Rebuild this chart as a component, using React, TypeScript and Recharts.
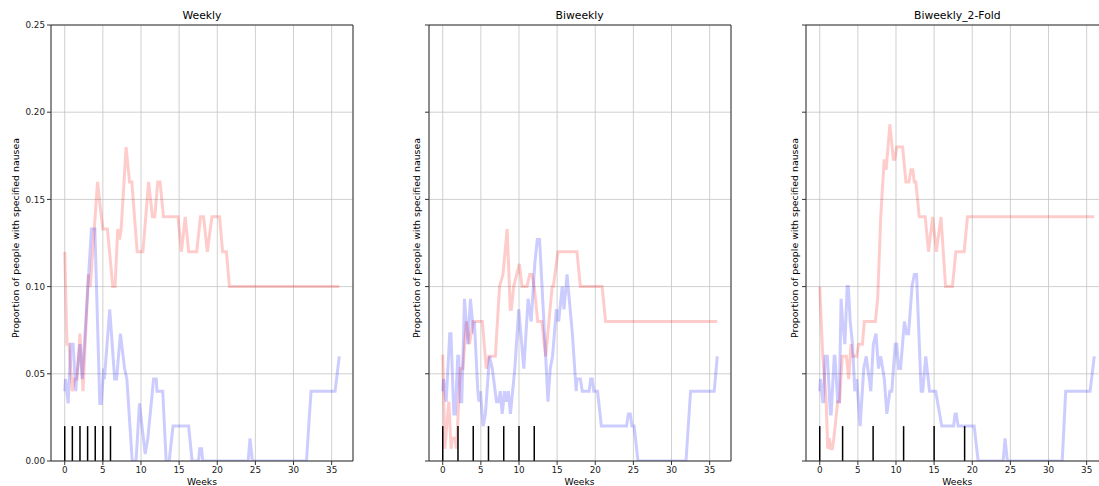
import React from "react";
import {
  LineChart,
  Line,
  XAxis,
  YAxis,
  CartesianGrid,
  ReferenceLine,
} from "recharts";

// [weeks, proportion] pairs
const weeklyRed: [number, number][] = [
  [0, 0.12], [0.3, 0.067], [0.55, 0.067], [1.0, 0.04], [1.3, 0.047], [1.6, 0.047],
  [2.0, 0.073], [2.4, 0.04], [3.1, 0.107], [3.35, 0.1], [4.3, 0.16], [4.8, 0.14],
  [5.0, 0.133], [5.6, 0.133], [6.3, 0.1], [6.6, 0.1], [6.95, 0.133], [7.2, 0.127],
  [7.4, 0.133], [8.05, 0.18], [8.5, 0.16], [8.8, 0.16], [9.5, 0.12], [10.25, 0.12],
  [11.0, 0.16], [11.5, 0.14], [11.8, 0.14], [12.2, 0.16], [12.5, 0.16], [12.95, 0.14],
  [14.85, 0.14], [15.3, 0.12], [15.8, 0.14], [16.25, 0.12], [17.3, 0.12], [17.8, 0.14],
  [18.2, 0.14], [18.7, 0.12], [19.3, 0.14], [20.3, 0.14], [20.7, 0.12], [21.2, 0.12],
  [21.6, 0.1], [36, 0.1],
];

const weeklyBlue: [number, number][] = [
  [0, 0.04], [0.1, 0.047], [0.45, 0.033], [0.8, 0.067], [1.1, 0.067], [1.45, 0.04],
  [1.55, 0.047], [2.0, 0.067], [2.3, 0.047], [3.5, 0.133], [3.95, 0.133], [4.6, 0.033],
  [4.8, 0.033], [5.1, 0.053], [5.2, 0.047], [5.9, 0.087], [6.55, 0.047], [6.8, 0.047],
  [7.3, 0.073], [7.85, 0.053], [8.15, 0.047], [8.85, 0], [9.35, 0], [9.8, 0.033],
  [10.55, 0.004], [10.9, 0.013], [11.65, 0.047], [12.0, 0.047], [12.1, 0.04], [12.85, 0.04],
  [13.3, 0], [13.7, 0], [14.2, 0.02], [16.25, 0.02], [16.7, 0], [17.55, 0], [17.7, 0.007],
  [17.95, 0.007], [18.1, 0], [24.05, 0], [24.3, 0.013], [24.6, 0], [31.7, 0], [32.1, 0.027],
  [32.3, 0.04], [35.45, 0.04], [36, 0.06],
];

const biweeklyRed: [number, number][] = [
  [0, 0.061], [0.27, 0.007], [0.8, 0.034], [1.1, 0.007], [1.25, 0.013], [1.6, 0.013],
  [1.8, 0.007], [2.3, 0.053], [2.65, 0.053], [3.1, 0.08], [3.5, 0.067], [4.0, 0.08],
  [5.2, 0.08], [5.7, 0.053], [6.05, 0.06], [6.9, 0.06], [7.45, 0.1], [7.9, 0.107],
  [8.45, 0.133], [8.85, 0.087], [9.0, 0.087], [9.3, 0.1], [10.05, 0.113], [10.4, 0.1],
  [11.05, 0.1], [11.4, 0.107], [11.7, 0.107], [12.0, 0.1], [12.45, 0.08], [13.0, 0.08],
  [13.5, 0.06], [14.35, 0.1], [14.5, 0.1], [15.1, 0.12], [17.6, 0.12], [18.05, 0.1],
  [20.9, 0.1], [21.35, 0.08], [36, 0.08],
];

const biweeklyBlue: [number, number][] = [
  [0, 0.04], [0.1, 0.047], [0.45, 0.034], [0.92, 0.073], [1.08, 0.073], [1.45, 0.027],
  [1.65, 0.027], [1.97, 0.06], [2.1, 0.06], [2.3, 0.034], [2.5, 0.034], [2.85, 0.093],
  [3.3, 0.067], [3.63, 0.093], [4.05, 0.073], [4.15, 0.08], [4.6, 0.04], [4.75, 0.034],
  [4.95, 0.04], [5.3, 0.02], [5.6, 0.027], [6.13, 0.06], [6.5, 0.053], [7.05, 0.034],
  [7.3, 0.034], [7.55, 0.04], [7.8, 0.027], [8.1, 0.04], [8.37, 0.034], [8.6, 0.04],
  [8.88, 0.027], [9.45, 0.053], [9.97, 0.087], [10.63, 0.053], [11.2, 0.093], [11.6, 0.08],
  [12.07, 0.113], [12.4, 0.127], [12.7, 0.127], [13.5, 0.06], [13.8, 0.034], [14.1, 0.053],
  [14.4, 0.06], [14.9, 0.087], [15.2, 0.08], [15.67, 0.1], [15.9, 0.087], [16.3, 0.107],
  [17.0, 0.073], [17.5, 0.04], [17.6, 0.047], [18.05, 0.047], [18.3, 0.04], [19.2, 0.04],
  [19.4, 0.047], [19.6, 0.047], [19.8, 0.04], [20.3, 0.04], [20.8, 0.02], [24.1, 0.02],
  [24.35, 0.027], [24.6, 0.027], [24.8, 0.02], [25.1, 0.02], [25.6, 0], [31.9, 0],
  [32.5, 0.04], [35.6, 0.04], [36, 0.06],
];

const foldRed: [number, number][] = [
  [0, 0.1], [0.4, 0.06], [0.85, 0.034], [1.05, 0.007], [1.25, 0.013], [1.45, 0.007],
  [1.65, 0.007], [1.85, 0.013], [2.36, 0.034], [2.6, 0.034], [2.95, 0.06], [3.5, 0.06],
  [3.8, 0.047], [4.1, 0.067], [4.3, 0.06], [4.85, 0.06], [5.1, 0.067], [5.6, 0.067],
  [5.85, 0.08], [7.3, 0.08], [7.6, 0.093], [8.0, 0.14], [8.45, 0.173], [8.7, 0.167],
  [9.2, 0.193], [9.65, 0.173], [9.85, 0.173], [10.1, 0.18], [10.87, 0.18], [11.3, 0.16],
  [11.7, 0.16], [11.96, 0.167], [12.2, 0.167], [12.4, 0.16], [12.6, 0.16], [13.05, 0.14],
  [13.83, 0.14], [14.27, 0.12], [14.8, 0.14], [15.3, 0.12], [15.9, 0.14], [16.5, 0.1],
  [17.4, 0.1], [17.85, 0.12], [18.94, 0.12], [19.37, 0.14], [36, 0.14],
];

const foldBlue: [number, number][] = [
  [0, 0.04], [0.1, 0.047], [0.4, 0.034], [0.5, 0.034], [0.7, 0.06], [1.0, 0.06],
  [1.4, 0.027], [1.5, 0.027], [1.9, 0.06], [2.0, 0.06], [2.36, 0.034], [2.56, 0.034],
  [2.8, 0.093], [3.0, 0.08], [3.3, 0.067], [3.6, 0.1], [3.75, 0.1], [4.0, 0.08],
  [4.3, 0.067], [4.6, 0.04], [4.85, 0.047], [5.3, 0.02], [5.77, 0.053], [6.1, 0.06],
  [6.3, 0.053], [6.5, 0.047], [6.7, 0.04], [7.03, 0.067], [7.38, 0.073], [7.7, 0.053],
  [8.0, 0.06], [8.47, 0.047], [8.8, 0.027], [9.2, 0.04], [9.45, 0.04], [9.9, 0.067],
  [10.1, 0.067], [10.35, 0.053], [10.6, 0.053], [11.1, 0.08], [11.4, 0.073], [11.65, 0.073],
  [12.1, 0.1], [12.4, 0.107], [12.7, 0.107], [13.3, 0.04], [13.5, 0.04], [13.9, 0.06],
  [14.4, 0.04], [15.2, 0.04], [16.0, 0.02], [17.55, 0.02], [17.75, 0.027], [17.9, 0.027],
  [18.15, 0.02], [20.25, 0.02], [20.77, 0], [24.05, 0], [24.3, 0.013], [24.6, 0],
  [31.8, 0], [32.25, 0.04], [35.45, 0.04], [36, 0.06],
];

// dosing weeks (short black marks at the bottom)
const weeklyDoses = [0, 1, 2, 3, 4, 5, 6];
const biweeklyDoses = [0, 2, 4, 6, 8, 10, 12];
const foldDoses = [0, 3, 7, 11, 15, 19];

const xTicks = [0, 5, 10, 15, 20, 25, 30, 35];
const yTicks = [0, 0.05, 0.1, 0.15, 0.2, 0.25];
const titles = ["Weekly", "Biweekly", "Biweekly_2-Fold"];

const FONT = "'DejaVu Sans', sans-serif";
const X_DOMAIN: [number, number] = [-1.8, 37.8];
const Y_DOMAIN: [number, number] = [0, 0.25];

const toPoints = (pairs: [number, number][]) => pairs.map(([w, p]) => ({ w, p }));

interface PanelProps {
  title: string;
  red: [number, number][];
  blue: [number, number][];
  doses: number[];
  plotLeft: number;
  yTickLabels: boolean;
  yLabelX: number;
}

function Panel({ title, red, blue, doses, plotLeft, yTickLabels, yLabelX }: PanelProps) {
  const axisW = 50;
  const plotW = 302;
  const center = plotLeft + plotW / 2;
  return (
    <>
      <div
        style={{
          position: "absolute",
          left: center,
          top: 10,
          transform: "translateX(-50%)",
          fontFamily: FONT,
          fontSize: 10.8,
          lineHeight: "12px",
          whiteSpace: "nowrap",
          color: "#000",
        }}
      >
        {title}
      </div>
      <div
        style={{
          position: "absolute",
          left: yLabelX,
          top: 238,
          transform: "translate(-50%, -50%) rotate(-90deg)",
          fontFamily: FONT,
          fontSize: 9.4,
          lineHeight: "10px",
          whiteSpace: "nowrap",
          color: "#000",
        }}
      >
        Proportion of people with specified nausea
      </div>
      <div
        style={{
          position: "absolute",
          left: center,
          top: 477,
          transform: "translateX(-50%)",
          fontFamily: FONT,
          fontSize: 9.2,
          lineHeight: "10px",
          whiteSpace: "nowrap",
          color: "#000",
        }}
      >
        Weeks
      </div>
      <div style={{ position: "absolute", left: plotLeft - axisW, top: 0 }}>
        <LineChart
          width={axisW + plotW + 10}
          height={486}
          margin={{ top: 25, right: 10, bottom: 0, left: 0 }}
        >
          <CartesianGrid stroke="#c4c4c4" strokeWidth={0.8} />
          <XAxis
            dataKey="w"
            type="number"
            domain={X_DOMAIN}
            ticks={xTicks}
            interval={0}
            allowDataOverflow
            height={25}
            tickSize={4}
            tickMargin={2}
            axisLine={{ stroke: "#333" }}
            tickLine={{ stroke: "#333" }}
            tick={{ fontSize: 8.8, fill: "#222", fontFamily: FONT }}
          />
          <YAxis
            type="number"
            domain={Y_DOMAIN}
            ticks={yTicks}
            interval={0}
            allowDataOverflow
            width={axisW}
            tickSize={4}
            tickMargin={2}
            axisLine={{ stroke: "#333" }}
            tickLine={{ stroke: "#333" }}
            tickFormatter={(v: number) => (yTickLabels ? v.toFixed(2) : "")}
            tick={{ fontSize: 8.8, fill: "#222", fontFamily: FONT }}
          />
          <Line
            data={toPoints(red)}
            dataKey="p"
            type="linear"
            stroke="#ff0000"
            strokeOpacity={0.2}
            strokeWidth={3}
            dot={false}
            activeDot={false}
            isAnimationActive={false}
          />
          <Line
            data={toPoints(blue)}
            dataKey="p"
            type="linear"
            stroke="#0000ff"
            strokeOpacity={0.2}
            strokeWidth={3}
            dot={false}
            activeDot={false}
            isAnimationActive={false}
          />
          {doses.map((d) => (
            <ReferenceLine
              key={d}
              segment={[
                { x: d, y: 0 },
                { x: d, y: 0.02 },
              ]}
              stroke="#000"
              strokeWidth={1.5}
            />
          ))}
          {/* top and right spines */}
          <ReferenceLine y={Y_DOMAIN[1]} stroke="#333" strokeWidth={1} />
          <ReferenceLine x={X_DOMAIN[1]} stroke="#333" strokeWidth={1} />
        </LineChart>
      </div>
    </>
  );
}

export default function App() {
  return (
    <div
      style={{
        position: "absolute",
        left: 0,
        top: 0,
        width: 1099,
        height: 486,
        overflow: "hidden",
        background: "#fff",
      }}
    >
      <Panel title={titles[0]} red={weeklyRed} blue={weeklyBlue} doses={weeklyDoses}
        plotLeft={51} yTickLabels yLabelX={16} />
      <Panel title={titles[1]} red={biweeklyRed} blue={biweeklyBlue} doses={biweeklyDoses}
        plotLeft={428.6} yTickLabels={false} yLabelX={417} />
      <Panel title={titles[2]} red={foldRed} blue={foldBlue} doses={foldDoses}
        plotLeft={806.3} yTickLabels={false} yLabelX={795} />
    </div>
  );
}
